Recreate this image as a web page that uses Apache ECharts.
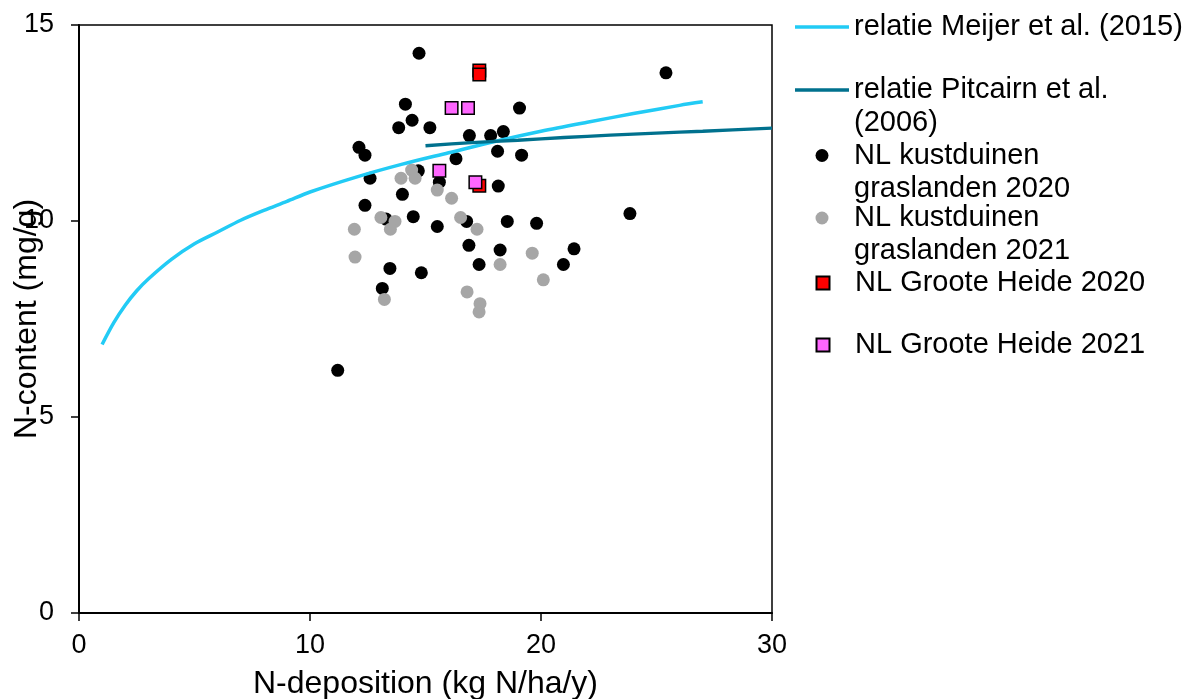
<!DOCTYPE html>
<html>
<head>
<meta charset="utf-8">
<script src="https://cdn.jsdelivr.net/npm/echarts@6/dist/echarts.min.js"></script>
<style>
html,body{margin:0;padding:0;background:#fff;}
#chart{width:1192px;height:699px;}
</style>
</head>
<body>
<div id="chart"></div>
<script>
// Axis ticks
var xTicks = [0, 10, 20, 30];
var yTicks = [0, 5, 10, 15];

// Series names
var nameMeijer = 'relatie Meijer et al. (2015)';
var namePitcairn = 'relatie Pitcairn et al. (2006)';
var nameKust2020 = 'NL kustduinen graslanden 2020';
var nameKust2021 = 'NL kustduinen graslanden 2021';
var nameHeide2020 = 'NL Groote Heide 2020';
var nameHeide2021 = 'NL Groote Heide 2021';

// Relation curves [N-deposition, N-content]
var meijerCurve = [
  [1, 6.85], [1.5, 7.4], [2, 7.85], [2.5, 8.22], [3, 8.52], [4, 9.02], [5, 9.42],
  [6, 9.72], [7, 10.02], [8, 10.27], [9, 10.5], [10, 10.74], [12, 11.12],
  [14, 11.45], [16, 11.74], [18, 12.03], [20, 12.29], [22, 12.52], [24, 12.74],
  [26, 12.95], [27, 13.04]
];
var pitcairnCurve = [
  [15, 11.92], [17, 12.0], [19, 12.06], [21, 12.13], [23, 12.19],
  [25, 12.24], [27, 12.29], [30, 12.37]
];

// Scatter observations [N-deposition, N-content]
var kust2020 = [
  [14.72, 14.28], [25.41, 13.78], [14.13, 12.98], [19.07, 12.88], [14.42, 12.57],
  [13.84, 12.38], [15.19, 12.38], [16.9, 12.18], [17.82, 12.18], [18.37, 12.28],
  [12.12, 11.88], [12.38, 11.68], [18.12, 11.78], [19.16, 11.68], [16.32, 11.59],
  [12.6, 11.09], [14.69, 11.28], [15.6, 10.99], [18.15, 10.89], [14.0, 10.68],
  [12.38, 10.4], [23.85, 10.19], [13.29, 10.05], [14.47, 10.11], [15.51, 9.86],
  [16.78, 9.99], [18.54, 9.99], [19.81, 9.94], [16.88, 9.38], [18.23, 9.26],
  [21.43, 9.29], [13.46, 8.79], [14.82, 8.68], [17.32, 8.89], [20.97, 8.89],
  [13.13, 8.28], [11.2, 6.19]
];
var kust2021 = [
  [13.94, 11.09], [14.4, 11.3], [14.55, 11.09], [15.51, 10.79], [16.13, 10.58],
  [11.92, 9.79], [13.07, 10.09], [13.68, 9.99], [13.48, 9.79], [16.52, 10.09],
  [17.23, 9.79], [11.95, 9.08], [18.23, 8.89], [19.62, 9.18], [20.1, 8.5],
  [16.8, 8.19], [13.22, 8.0], [17.36, 7.89], [17.32, 7.68]
];
var heide2020 = [[17.33, 13.84], [17.33, 13.74], [17.33, 10.9]];
var heide2021 = [[16.13, 12.88], [16.84, 12.88], [15.6, 11.28], [17.16, 10.99]];

var FONT = 'Liberation Sans, Arial, sans-serif';
var LH = 33;
var SQUARE_ICON = 'path://M0,0L10,0L10,10L0,10Z';

function legendFor(name, top, label, kind) {
  var item = {name: name};
  if (kind === 'line') item.icon = 'rect';
  if (kind === 'square') item.icon = SQUARE_ICON;
  if (kind === 'circle') item.icon = 'circle';
  return {
    data: [item],
    // symbol icons are centred inside the 54px slot, layout aligns to their left edge
    left: kind === 'line' ? 795 : 815.5,
    top: top,
    orient: 'vertical',
    padding: 0,
    itemWidth: 54,
    itemHeight: kind === 'line' ? 3.5 : 13,
    symbolKeepAspect: kind !== 'line',
    selectedMode: false,
    formatter: function () { return label; },
    textStyle: {
      fontFamily: FONT,
      fontSize: 29,
      color: '#000',
      lineHeight: LH
    }
  };
}

var chart = echarts.init(document.getElementById('chart'), null, {renderer: 'canvas'});
chart.setOption({
  animation: false,
  backgroundColor: '#fff',
  textStyle: {fontFamily: FONT},
  grid: {
    left: 79, top: 25, right: 420, bottom: 86,
    outerBoundsMode: 'none',
    containLabel: false,
    show: true, borderColor: '#000', borderWidth: 1.5, backgroundColor: 'transparent'
  },
  legend: [
    legendFor(nameMeijer, 10.5, 'relatie Meijer et al. (2015)', 'line'),
    legendFor(namePitcairn, 40.5, '\nrelatie Pitcairn et al.\n(2006)', 'line'),
    legendFor(nameKust2020, 106, '\nNL kustduinen\ngraslanden 2020', 'circle'),
    legendFor(nameKust2021, 168.5, '\nNL kustduinen\ngraslanden 2021', 'circle'),
    legendFor(nameHeide2020, 266.5, 'NL Groote Heide 2020', 'square'),
    legendFor(nameHeide2021, 328.5, 'NL Groote Heide 2021', 'square')
  ],
  xAxis: {
    type: 'value',
    min: xTicks[0], max: xTicks[xTicks.length - 1], interval: 10,
    name: 'N-deposition (kg N/ha/y)',
    nameLocation: 'middle', nameGap: 55, nameMoveOverlap: false,
    nameTextStyle: {fontFamily: FONT, fontSize: 32, color: '#000'},
    axisLine: {show: true, onZero: false, lineStyle: {color: '#000', width: 2}},
    axisTick: {show: true, inside: false, length: 8, lineStyle: {color: '#000', width: 1.5}},
    axisLabel: {fontFamily: FONT, fontSize: 27, color: '#000', margin: 19},
    splitLine: {show: false}
  },
  yAxis: {
    type: 'value',
    min: yTicks[0], max: yTicks[yTicks.length - 1], interval: 5,
    name: 'N-content (mg/g)',
    nameLocation: 'middle', nameGap: 36, nameMoveOverlap: false,
    nameTextStyle: {fontFamily: FONT, fontSize: 32, color: '#000'},
    axisLine: {show: true, onZero: false, lineStyle: {color: '#000', width: 2}},
    axisTick: {show: true, inside: false, length: 8, lineStyle: {color: '#000', width: 1.5}},
    axisLabel: {fontFamily: FONT, fontSize: 27, color: '#000', margin: 25},
    splitLine: {show: false}
  },
  series: [
    {
      name: nameMeijer, type: 'line', data: meijerCurve, symbol: 'none',
      smooth: 0.3,
      lineStyle: {color: '#22CBF5', width: 3.5}, itemStyle: {color: '#22CBF5'}
    },
    {
      name: namePitcairn, type: 'line', data: pitcairnCurve, symbol: 'none',
      smooth: 0.3,
      lineStyle: {color: '#00718E', width: 3.3}, itemStyle: {color: '#00718E'}
    },
    {
      name: nameKust2020, type: 'scatter', data: kust2020, symbol: 'circle', symbolSize: 13,
      itemStyle: {color: '#000000', opacity: 1}
    },
    {
      name: nameKust2021, type: 'scatter', data: kust2021, symbol: 'circle', symbolSize: 13,
      itemStyle: {color: '#A6A6A6', opacity: 1}
    },
    {
      name: nameHeide2020, type: 'scatter', data: heide2020, symbol: 'rect', symbolSize: 12.5,
      itemStyle: {color: '#FF0000', borderColor: '#000', borderWidth: 1.5, opacity: 1}
    },
    {
      name: nameHeide2021, type: 'scatter', data: heide2021, symbol: 'rect', symbolSize: 12.5,
      itemStyle: {color: '#FF66FF', borderColor: '#000', borderWidth: 1.5, opacity: 1}
    }
  ]
});
</script>
</body>
</html>
